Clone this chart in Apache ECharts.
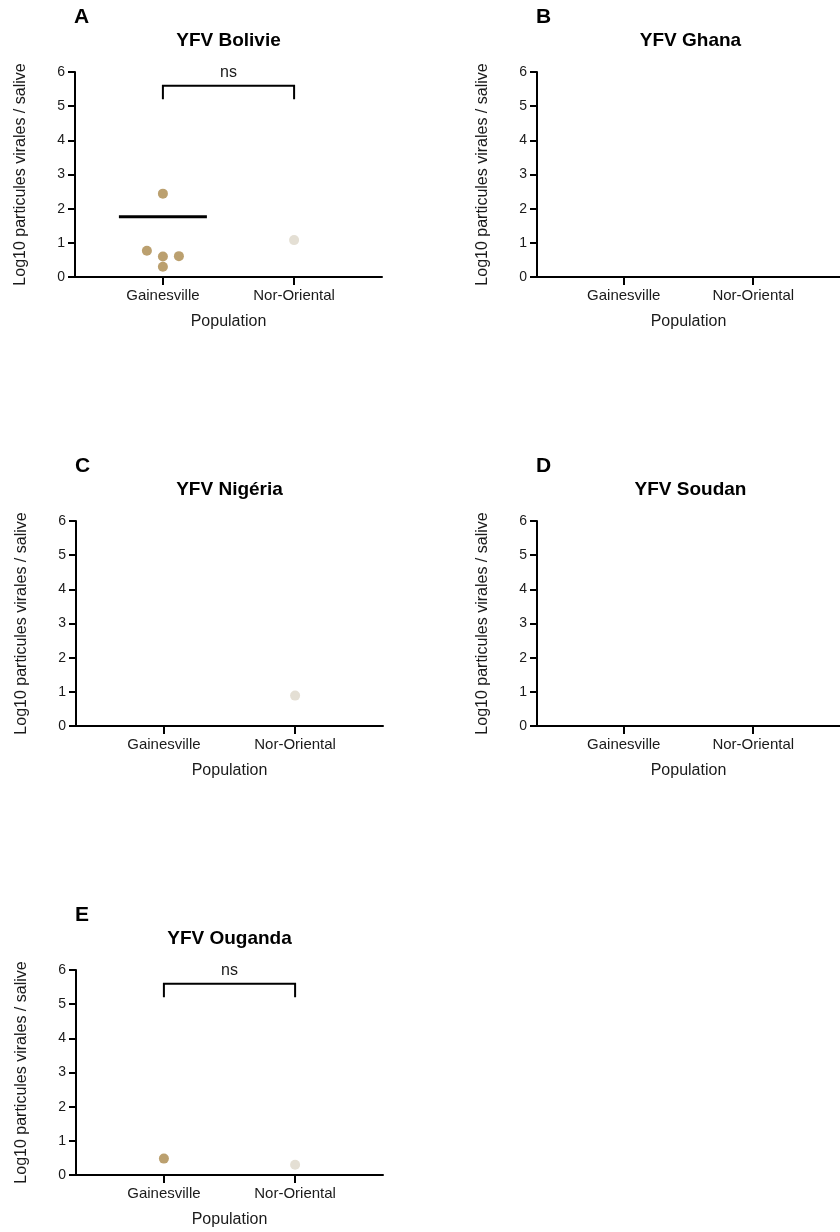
<!DOCTYPE html>
<html>
<head>
<meta charset="utf-8">
<script src="https://cdn.jsdelivr.net/npm/echarts@6/dist/echarts.min.js"></script>
<style>
html,body{margin:0;padding:0;background:#fff;}
#chart{width:840px;height:1232px;}
</style>
</head>
<body>
<div id="chart"></div>
<script>
// ---------- DATA ----------
const categories = ['Gainesville', 'Nor-Oriental'];
const yTicks = [0, 1, 2, 3, 4, 5, 6];
const panelLetters = ['A', 'B', 'C', 'D', 'E'];
const panelTitles = ['YFV Bolivie', 'YFV Ghana', 'YFV Nigéria', 'YFV Soudan', 'YFV Ouganda'];
const yAxisTitle = 'Log10 particules virales / salive';
const xAxisTitle = 'Population';

const gainesvilleBolivie = [2.44, 0.77, 0.60, 0.61, 0.30];
const norOrientalBolivie = [1.08];
const gainesvilleGhana = [];
const norOrientalGhana = [];
const gainesvilleNigeria = [];
const norOrientalNigeria = [0.89];
const gainesvilleSoudan = [];
const norOrientalSoudan = [];
const gainesvilleOuganda = [0.48];
const norOrientalOuganda = [0.30];

const significance = ['ns', null, null, null, 'ns'];
const bracketLevel = 5.6;
const bracketDrop = 0.4;

// ---------- LAYOUT / STYLE ----------
const FONT = '"Liberation Sans", Arial, Helvetica, sans-serif';
const TXT = '#1a1a1a';
const colors = ['#BBA06F', '#E4DFD4'];
const gridW = 307, gridH = 205;
const grids = [
  {left: 75, top: 72}, {left: 537, top: 72},
  {left: 76, top: 521}, {left: 537, top: 521},
  {left: 76, top: 970}
];
const xMin = -0.67, xMax = 1.67;
const pxPerX = gridW / (xMax - xMin);
const pxPerY = gridH / (yTicks[yTicks.length - 1] - yTicks[0]);
const dotSize = 10;
const swarmStep = 16;

const panelGroups = [
  [gainesvilleBolivie, norOrientalBolivie],
  [gainesvilleGhana, norOrientalGhana],
  [gainesvilleNigeria, norOrientalNigeria],
  [gainesvilleSoudan, norOrientalSoudan],
  [gainesvilleOuganda, norOrientalOuganda]
];

function swarm(values, catIndex) {
  const sorted = values.slice().sort((a, b) => a - b);
  const placed = [];
  const out = [];
  for (const v of sorted) {
    for (const k of [0, 1, -1, 2, -2, 3, -3]) {
      const dx = k * swarmStep;
      const ok = placed.every(p => Math.hypot(p.dx - dx, (p.v - v) * pxPerY) >= dotSize - 0.5);
      if (ok) { placed.push({dx, v}); out.push([catIndex + dx / pxPerX, v]); break; }
    }
  }
  return out;
}
function meanLog(values) {
  // mean of the raw values, shown on log10 scale
  const m = values.reduce((s, v) => s + Math.pow(10, v), 0) / values.length;
  return Math.log10(m);
}

const grid = [], xAxis = [], yAxis = [], series = [], graphic = [];
grids.forEach((g, i) => {
  grid.push({left: g.left, top: g.top, width: gridW, height: gridH, containLabel: false});
  xAxis.push({
    gridIndex: i, type: 'value', min: xMin, max: xMax,
    name: xAxisTitle, nameLocation: 'middle', nameGap: 37,
    nameTextStyle: {fontFamily: FONT, fontSize: 16, color: TXT},
    axisLine: {show: true, onZero: false, lineStyle: {color: '#000', width: 2}},
    axisTick: {show: true, length: 8, lineStyle: {color: '#000', width: 2}, customValues: [0, 1]},
    axisLabel: {show: true, customValues: [0, 1], margin: 11, fontFamily: FONT, fontSize: 15, color: TXT,
      formatter: v => categories[Math.round(v)] || ''},
    splitLine: {show: false}
  });
  yAxis.push({
    gridIndex: i, type: 'value', min: yTicks[0], max: yTicks[yTicks.length - 1], interval: 1,
    name: yAxisTitle, nameLocation: 'middle', nameGap: 46,
    nameTextStyle: {fontFamily: FONT, fontSize: 16, color: TXT},
    axisLine: {show: true, onZero: false, lineStyle: {color: '#000', width: 2}},
    axisTick: {show: true, length: 7, lineStyle: {color: '#000', width: 2}},
    axisLabel: {margin: 10, fontFamily: FONT, fontSize: 14, color: TXT},
    splitLine: {show: false}
  });
  const groups = panelGroups[i];
  // mean lines
  const means = [];
  groups.forEach((vals, c) => { if (vals.length > 1) means.push([c, meanLog(vals)]); });
  series.push({
    type: 'custom', xAxisIndex: i, yAxisIndex: i, data: means, z: 3, silent: true,
    renderItem: (params, api) => {
      const p = api.coord([api.value(0), api.value(1)]);
      return {type: 'line', shape: {x1: p[0] - 44, y1: p[1], x2: p[0] + 44, y2: p[1]},
        style: {stroke: '#000', lineWidth: 3}};
    }
  });
  groups.forEach((vals, c) => {
    series.push({
      type: 'scatter', name: categories[c], xAxisIndex: i, yAxisIndex: i,
      data: swarm(vals, c), symbol: 'circle', symbolSize: dotSize, z: 4,
      itemStyle: {color: colors[c], opacity: 1}, silent: true
    });
  });
  if (significance[i]) {
    series.push({
      type: 'custom', xAxisIndex: i, yAxisIndex: i, silent: true, z: 5,
      data: [[0, 1, bracketLevel, bracketLevel - bracketDrop]],
      renderItem: (params, api) => {
        const a = api.coord([api.value(0), api.value(2)]);
        const b = api.coord([api.value(1), api.value(2)]);
        const lowY = api.coord([api.value(0), api.value(3)])[1];
        return {type: 'group', children: [
          {type: 'polyline', shape: {points: [[a[0], lowY], [a[0], a[1]], [b[0], b[1]], [b[0], lowY]]},
            style: {stroke: '#000', lineWidth: 2, fill: null}},
          {type: 'text', x: (a[0] + b[0]) / 2, y: a[1] - 13,
            style: {text: significance[i], font: '16px ' + FONT, fill: TXT,
              align: 'center', verticalAlign: 'middle', textAlign: 'center', textVerticalAlign: 'middle'}}
        ]};
      }
    });
  }
  graphic.push({type: 'text', x: g.left + gridW / 2, y: g.top - 31,
    style: {text: panelTitles[i], font: 'bold 19px ' + FONT, fill: '#000',
      align: 'center', verticalAlign: 'middle', textAlign: 'center', textVerticalAlign: 'middle'}});
  graphic.push({type: 'text', x: g.left - 1, y: g.top - 55,
    style: {text: panelLetters[i], font: 'bold 21px ' + FONT, fill: '#000',
      align: 'left', verticalAlign: 'middle', textAlign: 'left', textVerticalAlign: 'middle'}});
});

const chart = echarts.init(document.getElementById('chart'), null, {renderer: 'canvas'});
chart.setOption({
  backgroundColor: '#fff', animation: false,
  textStyle: {fontFamily: FONT},
  grid, xAxis, yAxis, series, graphic
});
</script>
</body>
</html>
